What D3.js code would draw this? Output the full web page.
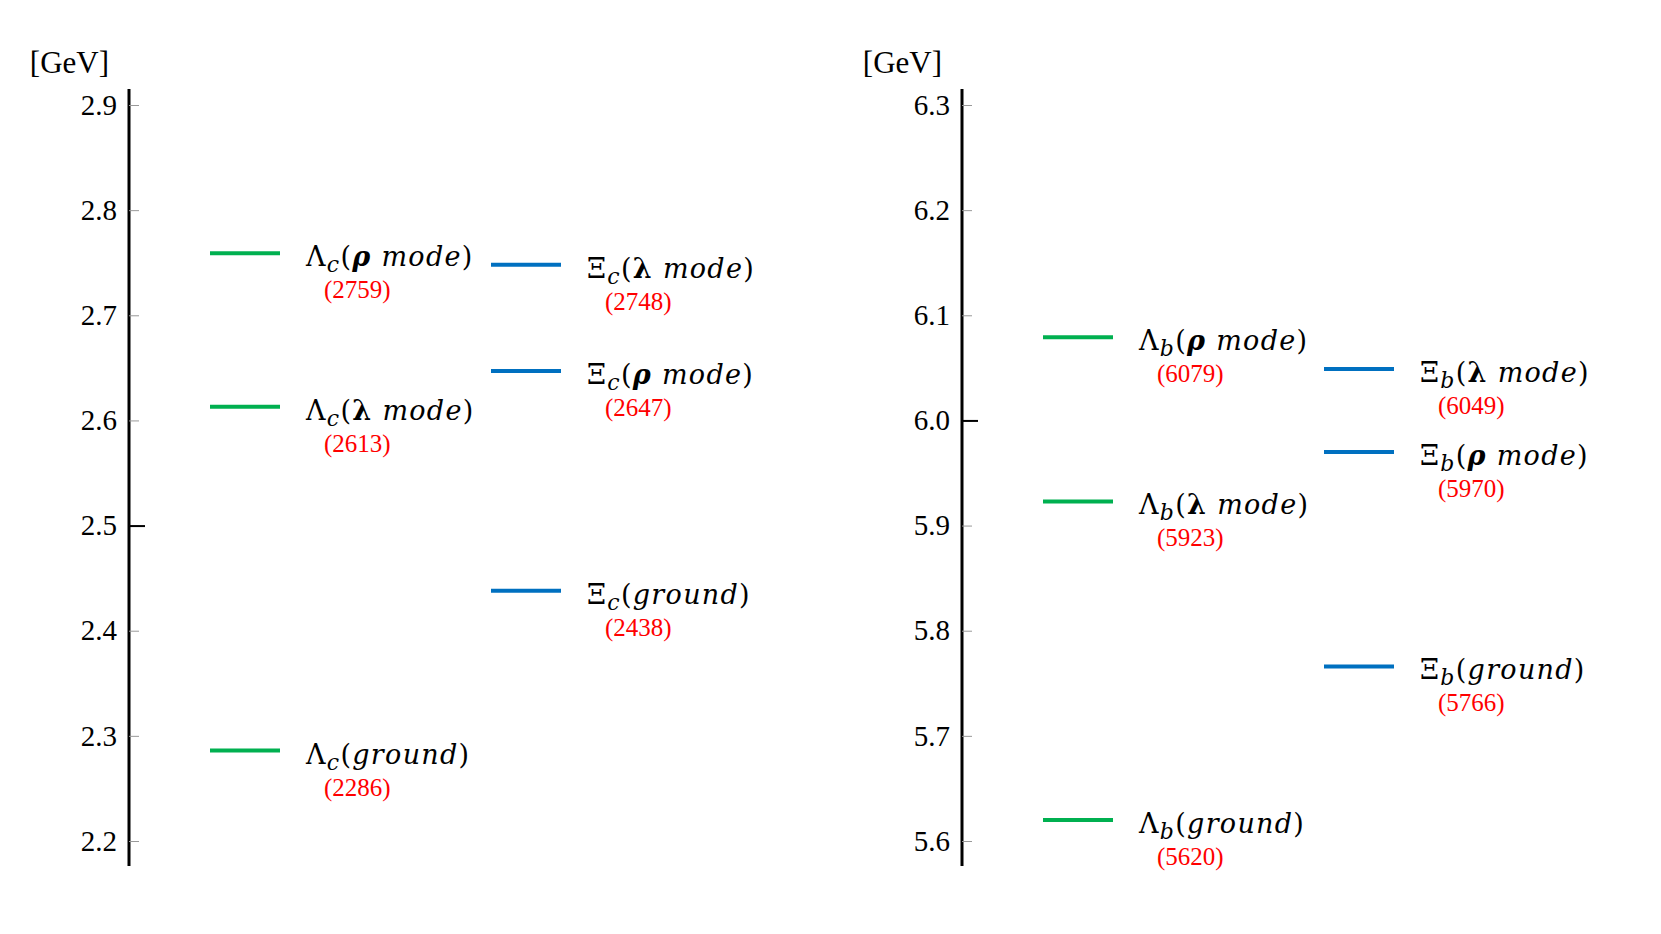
<!DOCTYPE html>
<html>
<head>
<meta charset="utf-8">
<script src="https://cdn.jsdelivr.net/npm/d3@7"></script>
<style>
  body { margin: 0; background: #fff; }
  .serif { font-family: "Liberation Serif", "Times New Roman", serif; }
  .math { font-family: "DejaVu Serif", serif; }
</style>
</head>
<body>
<svg id="chart"></svg>
<script>
// charm sector (GeV ticks, MeV masses)
const charmTicks = [2.2, 2.3, 2.4, 2.5, 2.6, 2.7, 2.8, 2.9];
const lambdaCModes = ["ground", "λ", "ρ"];
const lambdaCMasses = [2286, 2613, 2759];
const xiCModes = ["ground", "ρ", "λ"];
const xiCMasses = [2438, 2647, 2748];

// bottom sector
const bottomTicks = [5.6, 5.7, 5.8, 5.9, 6.0, 6.1, 6.2, 6.3];
const lambdaBModes = ["ground", "λ", "ρ"];
const lambdaBMasses = [5620, 5923, 6079];
const xiBModes = ["ground", "ρ", "λ"];
const xiBMasses = [5766, 5970, 6049];

const width = 1661, height = 934;
const green = "#00B050", blue = "#0070C0";

const svg = d3.select("#chart")
  .attr("width", width)
  .attr("height", height);

function drawPanel(opts) {
  const { axisX, ticks, majorTick, columns } = opts;

  const yScale = d3.scaleLinear()
    .domain([ticks[0], ticks[ticks.length - 1]])
    .range([841, 105]);

  const g = svg.append("g");

  // spine runs a little past the first / last tick
  g.append("line")
    .attr("x1", axisX).attr("x2", axisX)
    .attr("y1", yScale.range()[1] - 16)
    .attr("y2", yScale.range()[0] + 25)
    .attr("stroke", "#000")
    .attr("stroke-width", 3);

  // small grey ticks on the right side
  const minor = g.append("g")
    .attr("transform", `translate(${axisX},0)`)
    .call(d3.axisRight(yScale).tickValues(ticks).tickSize(10).tickFormat(""));
  minor.select(".domain").remove();
  minor.selectAll(".tick line").attr("stroke", "#999").attr("stroke-width", 1);

  // one bold tick
  const major = g.append("g")
    .attr("transform", `translate(${axisX},0)`)
    .call(d3.axisRight(yScale).tickValues([majorTick]).tickSize(16).tickFormat(""));
  major.select(".domain").remove();
  major.selectAll(".tick line").attr("stroke", "#000").attr("stroke-width", 2);

  // tick labels on the left
  const labels = g.append("g")
    .attr("transform", `translate(${axisX},0)`)
    .call(d3.axisLeft(yScale).tickValues(ticks).tickSize(0).tickPadding(12).tickFormat(d3.format(".1f")));
  labels.select(".domain").remove();
  labels.attr("font-family", null).attr("font-size", null);
  labels.selectAll(".tick text")
    .attr("class", "serif")
    .style("font-size", "29px")
    .attr("fill", "#000");

  // unit
  g.append("text")
    .attr("class", "serif")
    .text("[GeV]")
    .attr("x", axisX - 20)
    .attr("y", 73)
    .attr("text-anchor", "end")
    .style("font-size", "31px");

  const xScale = d3.scalePoint()
    .domain(columns.map(c => c.key))
    .range([axisX + 81, axisX + 362]);
  const barLen = 70;

  columns.forEach(col => {
    const levels = col.masses.map((m, i) => ({ mass: m, mode: col.modes[i] }));
    const x0 = xScale(col.key);

    g.selectAll(null)
      .data(levels)
      .join("line")
        .attr("x1", x0)
        .attr("x2", x0 + barLen)
        .attr("y1", d => yScale(d.mass / 1000))
        .attr("y2", d => yScale(d.mass / 1000))
        .attr("stroke", col.color)
        .attr("stroke-width", 4);

    levels.forEach(d => {
      const y = yScale(d.mass / 1000);
      addLabel(g, col.symbol, col.sub, d.mode, x0 + barLen + 26, y + 13);

      g.append("text")
        .attr("class", "serif")
        .text(`(${d.mass})`)
        .attr("x", x0 + barLen + 44)
        .attr("y", y + 45)
        .attr("fill", "#FF0000")
        .style("font-size", "25px");
    });
  });
}

// Λc(ρ mode) style label
function addLabel(g, sym, sub, mode, x, y) {
  const t = g.append("text")
    .attr("class", "math")
    .attr("x", x)
    .attr("y", y)
    .style("font-size", "27px")
    .style("letter-spacing", "1.3px")
    .attr("fill", "#000");
  t.append("tspan").text(sym);
  t.append("tspan").style("font-style", "italic").style("font-size", "22px").attr("dy", 6).text(sub);
  t.append("tspan").attr("dy", -6).text("(");
  if (mode === "ground") {
    t.append("tspan").style("font-style", "italic").text("ground");
  } else {
    t.append("tspan")
      .style("font-weight", "bold")
      .style("font-style", mode === "ρ" ? "italic" : "normal")
      .text(mode);
    t.append("tspan").style("font-style", "italic").text(" mode");
  }
  t.append("tspan").text(")");
}

drawPanel({
  axisX: 129,
  ticks: charmTicks,
  majorTick: 2.5,
  columns: [
    { key: "Lc", symbol: "Λ", sub: "c", color: green, modes: lambdaCModes, masses: lambdaCMasses },
    { key: "Xc", symbol: "Ξ", sub: "c", color: blue, modes: xiCModes, masses: xiCMasses }
  ]
});

drawPanel({
  axisX: 962,
  ticks: bottomTicks,
  majorTick: 6.0,
  columns: [
    { key: "Lb", symbol: "Λ", sub: "b", color: green, modes: lambdaBModes, masses: lambdaBMasses },
    { key: "Xb", symbol: "Ξ", sub: "b", color: blue, modes: xiBModes, masses: xiBMasses }
  ]
});
</script>
</body>
</html>
